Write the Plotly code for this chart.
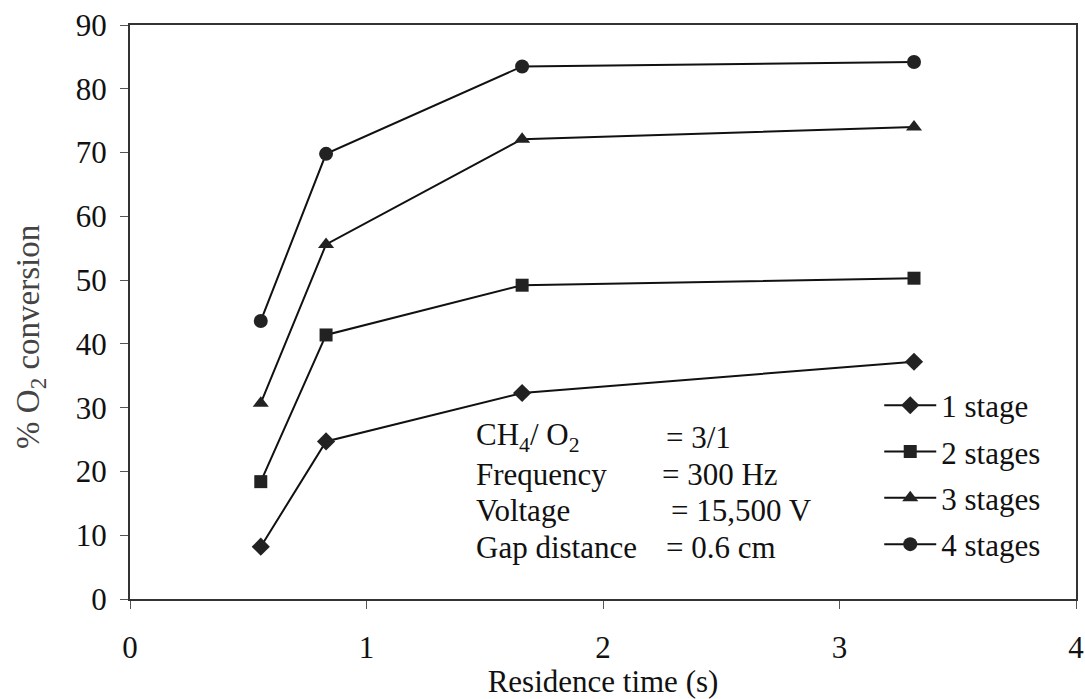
import plotly.graph_objects as go

# Residence time (s) for each run
residence_time = [0.553, 0.829, 1.658, 3.315]

# % O2 conversion for each number of plasma stages
stage_1 = [8.2, 24.7, 32.3, 37.2]
stage_2 = [18.4, 41.4, 49.2, 50.3]
stage_3 = [30.7, 55.6, 72.1, 74.0]
stage_4 = [43.6, 69.8, 83.5, 84.2]

series_names = ["1 stage", "2 stages", "3 stages", "4 stages"]
series_values = [stage_1, stage_2, stage_3, stage_4]
series_symbols = ["diamond", "square", "triangle-up", "circle"]
series_sizes = [14, 13, 14, 14]

x_ticks = [0, 1, 2, 3, 4]
y_ticks = [0, 10, 20, 30, 40, 50, 60, 70, 80, 90]

# Operating conditions shown inside the plot
cond_labels = ["CH<sub>4</sub>/ O<sub>2</sub>", "Frequency", "Voltage", "Gap distance"]
cond_values = ["= 3/1", "= 300 Hz", "= 15,500 V", "= 0.6 cm"]

FONT = "Liberation Serif, Times New Roman, serif"
TXT = 31

fig = go.Figure()
for i, (name, vals, sym, sz) in enumerate(zip(series_names, series_values,
                                                series_symbols, series_sizes)):
    fig.add_trace(go.Scatter(
        x=residence_time, y=vals, name=name, mode="lines+markers",
        legendgroup=f"g{i}",
        line=dict(color="#111111", width=2),
        marker=dict(symbol=sym, size=sz, color="#222222", line=dict(width=0)),
    ))

cond_y = [25.4, 19.6, 13.8, 8.0]
cond_val_x = [2.259, 2.243, 2.281, 2.259]
for lab, val, yy, vx in zip(cond_labels, cond_values, cond_y, cond_val_x):
    fig.add_annotation(x=1.455, y=yy, text=lab, showarrow=False,
                       xanchor="left", yanchor="middle",
                       font=dict(family=FONT, size=TXT, color="#111111"))
    fig.add_annotation(x=vx, y=yy, text=val, showarrow=False,
                       xanchor="left", yanchor="middle",
                       font=dict(family=FONT, size=TXT, color="#111111"))

# Vertical axis title, placed a little below the plot's mid-height
fig.add_annotation(xref="paper", yref="paper", x=-0.105, y=0.456,
                   text="% O<sub>2</sub> conversion", textangle=-90,
                   showarrow=False, xanchor="center", yanchor="middle",
                   font=dict(family=FONT, size=33, color="#444444"))

axis_common = dict(
    showline=True, linecolor="#333333", linewidth=2, mirror=True,
    ticks="outside", ticklen=8, tickcolor="#555555", tickwidth=1,
    showgrid=False, zeroline=False, automargin=False,
    tickfont=dict(family=FONT, size=TXT, color="#111111"),
)

fig.update_xaxes(range=[0, 4], tickvals=x_ticks, ticklabelstandoff=12,
                 title=dict(text="Residence time (s)", standoff=14,
                            font=dict(family=FONT, size=TXT, color="#111111")),
                 **axis_common)
fig.update_yaxes(range=[0, 90], tickvals=y_ticks, ticklabelstandoff=7,
                 **axis_common)

fig.update_layout(
    width=1085, height=699,
    margin=dict(l=130, r=9, t=25, b=100),
    paper_bgcolor="white", plot_bgcolor="white",
    font=dict(family=FONT, size=TXT, color="#111111"),
    showlegend=True,
    legend=dict(x=0.792, y=0.384, xanchor="left", yanchor="top",
                bgcolor="rgba(0,0,0,0)", itemwidth=52, tracegroupgap=3,
                font=dict(family=FONT, size=TXT, color="#111111")),
)

fig.write_html("out.html")
